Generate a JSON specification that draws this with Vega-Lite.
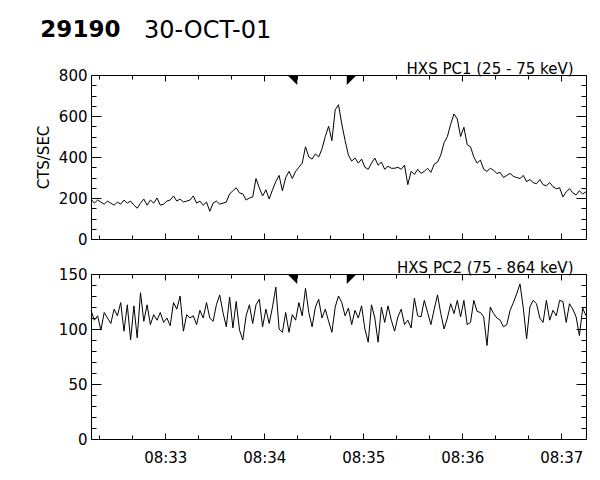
{
"$schema": "https://vega.github.io/schema/vega-lite/v6.json",
"padding": {"left": 36, "top": 18, "right": 5, "bottom": 5},
"title": {"text": "29190", "anchor": "start", "frame": "bounds", "fontSize": 23, "fontWeight": "bold", "font": "DejaVu Sans", "color": "black", "dx": 4, "dy": 27, "offset": 4},
"spacing": 13,
"vconcat": [
{
 "width": 495, "height": 164,
 "title": {"text": "30-OCT-01", "anchor": "start", "frame": "group", "dx": 53, "offset": 19, "fontSize": 24, "fontWeight": "normal", "font": "DejaVu Sans", "color": "black"},
 "data": {"values": [
{"t":"2001-10-30T08:32:15","v":195},{"t":"2001-10-30T08:32:17","v":175},{"t":"2001-10-30T08:32:19","v":190},{"t":"2001-10-30T08:32:21","v":180},{"t":"2001-10-30T08:32:23","v":170},{"t":"2001-10-30T08:32:25","v":185},{"t":"2001-10-30T08:32:27","v":175},{"t":"2001-10-30T08:32:29","v":165},{"t":"2001-10-30T08:32:31","v":180},{"t":"2001-10-30T08:32:33","v":170},{"t":"2001-10-30T08:32:35","v":190},{"t":"2001-10-30T08:32:37","v":175},{"t":"2001-10-30T08:32:39","v":185},{"t":"2001-10-30T08:32:41","v":165},{"t":"2001-10-30T08:32:43","v":150},{"t":"2001-10-30T08:32:45","v":175},{"t":"2001-10-30T08:32:47","v":195},{"t":"2001-10-30T08:32:49","v":165},{"t":"2001-10-30T08:32:51","v":190},{"t":"2001-10-30T08:32:53","v":175},{"t":"2001-10-30T08:32:55","v":200},{"t":"2001-10-30T08:32:57","v":165},{"t":"2001-10-30T08:32:59","v":170},
{"t":"2001-10-30T08:33:01","v":185},{"t":"2001-10-30T08:33:03","v":190},{"t":"2001-10-30T08:33:05","v":210},{"t":"2001-10-30T08:33:07","v":185},{"t":"2001-10-30T08:33:09","v":195},{"t":"2001-10-30T08:33:11","v":180},{"t":"2001-10-30T08:33:13","v":185},{"t":"2001-10-30T08:33:15","v":190},{"t":"2001-10-30T08:33:17","v":210},{"t":"2001-10-30T08:33:19","v":175},{"t":"2001-10-30T08:33:21","v":185},{"t":"2001-10-30T08:33:23","v":165},{"t":"2001-10-30T08:33:25","v":180},{"t":"2001-10-30T08:33:27","v":135},{"t":"2001-10-30T08:33:29","v":175},{"t":"2001-10-30T08:33:31","v":185},{"t":"2001-10-30T08:33:33","v":170},{"t":"2001-10-30T08:33:35","v":175},{"t":"2001-10-30T08:33:37","v":180},{"t":"2001-10-30T08:33:39","v":220},{"t":"2001-10-30T08:33:41","v":235},{"t":"2001-10-30T08:33:43","v":250},{"t":"2001-10-30T08:33:45","v":225},{"t":"2001-10-30T08:33:47","v":220},{"t":"2001-10-30T08:33:49","v":190},{"t":"2001-10-30T08:33:51","v":200},{"t":"2001-10-30T08:33:53","v":205},{"t":"2001-10-30T08:33:55","v":295},{"t":"2001-10-30T08:33:57","v":250},{"t":"2001-10-30T08:33:59","v":210},
{"t":"2001-10-30T08:34:01","v":240},{"t":"2001-10-30T08:34:03","v":195},{"t":"2001-10-30T08:34:05","v":240},{"t":"2001-10-30T08:34:07","v":280},{"t":"2001-10-30T08:34:09","v":310},{"t":"2001-10-30T08:34:11","v":235},{"t":"2001-10-30T08:34:13","v":300},{"t":"2001-10-30T08:34:15","v":330},{"t":"2001-10-30T08:34:17","v":295},{"t":"2001-10-30T08:34:19","v":330},{"t":"2001-10-30T08:34:21","v":350},{"t":"2001-10-30T08:34:23","v":370},{"t":"2001-10-30T08:34:25","v":450},{"t":"2001-10-30T08:34:27","v":400},{"t":"2001-10-30T08:34:29","v":390},{"t":"2001-10-30T08:34:31","v":415},{"t":"2001-10-30T08:34:33","v":400},{"t":"2001-10-30T08:34:35","v":440},{"t":"2001-10-30T08:34:37","v":500},{"t":"2001-10-30T08:34:39","v":550},{"t":"2001-10-30T08:34:41","v":480},{"t":"2001-10-30T08:34:43","v":630},{"t":"2001-10-30T08:34:45","v":655},{"t":"2001-10-30T08:34:47","v":560},{"t":"2001-10-30T08:34:49","v":480},{"t":"2001-10-30T08:34:51","v":410},{"t":"2001-10-30T08:34:53","v":380},{"t":"2001-10-30T08:34:55","v":395},{"t":"2001-10-30T08:34:57","v":370},{"t":"2001-10-30T08:34:59","v":390},
{"t":"2001-10-30T08:35:01","v":350},{"t":"2001-10-30T08:35:03","v":340},{"t":"2001-10-30T08:35:05","v":370},{"t":"2001-10-30T08:35:07","v":395},{"t":"2001-10-30T08:35:09","v":360},{"t":"2001-10-30T08:35:11","v":375},{"t":"2001-10-30T08:35:13","v":340},{"t":"2001-10-30T08:35:15","v":355},{"t":"2001-10-30T08:35:17","v":345},{"t":"2001-10-30T08:35:19","v":345},{"t":"2001-10-30T08:35:21","v":350},{"t":"2001-10-30T08:35:23","v":340},{"t":"2001-10-30T08:35:25","v":360},{"t":"2001-10-30T08:35:27","v":265},{"t":"2001-10-30T08:35:29","v":330},{"t":"2001-10-30T08:35:31","v":315},{"t":"2001-10-30T08:35:33","v":340},{"t":"2001-10-30T08:35:35","v":320},{"t":"2001-10-30T08:35:37","v":330},{"t":"2001-10-30T08:35:39","v":345},{"t":"2001-10-30T08:35:41","v":325},{"t":"2001-10-30T08:35:43","v":365},{"t":"2001-10-30T08:35:45","v":375},{"t":"2001-10-30T08:35:47","v":410},{"t":"2001-10-30T08:35:49","v":470},{"t":"2001-10-30T08:35:51","v":500},{"t":"2001-10-30T08:35:53","v":560},{"t":"2001-10-30T08:35:55","v":610},{"t":"2001-10-30T08:35:57","v":585},{"t":"2001-10-30T08:35:59","v":500},
{"t":"2001-10-30T08:36:01","v":545},{"t":"2001-10-30T08:36:03","v":460},{"t":"2001-10-30T08:36:05","v":450},{"t":"2001-10-30T08:36:07","v":400},{"t":"2001-10-30T08:36:09","v":370},{"t":"2001-10-30T08:36:11","v":385},{"t":"2001-10-30T08:36:13","v":340},{"t":"2001-10-30T08:36:15","v":330},{"t":"2001-10-30T08:36:17","v":345},{"t":"2001-10-30T08:36:19","v":335},{"t":"2001-10-30T08:36:21","v":320},{"t":"2001-10-30T08:36:23","v":325},{"t":"2001-10-30T08:36:25","v":300},{"t":"2001-10-30T08:36:27","v":310},{"t":"2001-10-30T08:36:29","v":320},{"t":"2001-10-30T08:36:31","v":305},{"t":"2001-10-30T08:36:33","v":300},{"t":"2001-10-30T08:36:35","v":295},{"t":"2001-10-30T08:36:37","v":310},{"t":"2001-10-30T08:36:39","v":280},{"t":"2001-10-30T08:36:41","v":290},{"t":"2001-10-30T08:36:43","v":275},{"t":"2001-10-30T08:36:45","v":270},{"t":"2001-10-30T08:36:47","v":290},{"t":"2001-10-30T08:36:49","v":265},{"t":"2001-10-30T08:36:51","v":260},{"t":"2001-10-30T08:36:53","v":275},{"t":"2001-10-30T08:36:55","v":255},{"t":"2001-10-30T08:36:57","v":245},{"t":"2001-10-30T08:36:59","v":250},
{"t":"2001-10-30T08:37:01","v":205},{"t":"2001-10-30T08:37:03","v":230},{"t":"2001-10-30T08:37:05","v":245},{"t":"2001-10-30T08:37:07","v":225},{"t":"2001-10-30T08:37:09","v":215},{"t":"2001-10-30T08:37:11","v":235},{"t":"2001-10-30T08:37:13","v":220},{"t":"2001-10-30T08:37:15","v":230}
 ]},
 "layer": [
  {"mark": {"type": "line", "color": "black", "strokeWidth": 1},
   "encoding": {
    "x": {"field": "t", "type": "temporal", "scale": {"domain": [{"year":2001,"month":10,"date":30,"hours":8,"minutes":32,"seconds":15},{"year":2001,"month":10,"date":30,"hours":8,"minutes":37,"seconds":15}], "nice": false},
          "axis": {"orient": "bottom", "labels": false, "values": [{"year":2001,"month":10,"date":30,"hours":8,"minutes":33},{"year":2001,"month":10,"date":30,"hours":8,"minutes":34},{"year":2001,"month":10,"date":30,"hours":8,"minutes":35},{"year":2001,"month":10,"date":30,"hours":8,"minutes":36},{"year":2001,"month":10,"date":30,"hours":8,"minutes":37}], "tickSize": -6, "title": null}},
    "y": {"field": "v", "type": "quantitative", "scale": {"domain": [0, 800], "nice": false},
          "axis": {"orient": "left", "values": [0,200,400,600,800], "tickSize": -10, "labelPadding": 14, "title": "CTS/SEC", "titlePadding": 7}}
   }},
  {"mark": {"type": "line", "opacity": 0},
   "encoding": {
    "x": {"field": "t", "type": "temporal", "axis": {"orient": "bottom", "labels": false, "domain": false, "values": [{"year":2001,"month":10,"date":30,"hours":8,"minutes":32,"seconds":20},{"year":2001,"month":10,"date":30,"hours":8,"minutes":32,"seconds":40},{"year":2001,"month":10,"date":30,"hours":8,"minutes":33,"seconds":20},{"year":2001,"month":10,"date":30,"hours":8,"minutes":33,"seconds":40},{"year":2001,"month":10,"date":30,"hours":8,"minutes":34,"seconds":20},{"year":2001,"month":10,"date":30,"hours":8,"minutes":34,"seconds":40},{"year":2001,"month":10,"date":30,"hours":8,"minutes":35,"seconds":20},{"year":2001,"month":10,"date":30,"hours":8,"minutes":35,"seconds":40},{"year":2001,"month":10,"date":30,"hours":8,"minutes":36,"seconds":20},{"year":2001,"month":10,"date":30,"hours":8,"minutes":36,"seconds":40}], "tickSize": -4, "title": null}},
    "y": {"field": "v", "type": "quantitative", "axis": {"orient": "left", "labels": false, "domain": false, "values": [50,100,150,250,300,350,450,500,550,650,700,750], "tickSize": -5, "title": null}}
   }},
  {"mark": {"type": "line", "opacity": 0},
   "encoding": {
    "x": {"field": "t", "type": "temporal", "axis": {"orient": "top", "labels": false, "values": [{"year":2001,"month":10,"date":30,"hours":8,"minutes":33},{"year":2001,"month":10,"date":30,"hours":8,"minutes":34},{"year":2001,"month":10,"date":30,"hours":8,"minutes":35},{"year":2001,"month":10,"date":30,"hours":8,"minutes":36},{"year":2001,"month":10,"date":30,"hours":8,"minutes":37}], "tickSize": -6, "title": "HXS PC1 (25 - 75 keV)", "titleX": 482, "titleAlign": "right", "titleBaseline": "alphabetic", "titlePadding": 1}},
    "y": {"field": "v", "type": "quantitative", "axis": {"orient": "right", "labels": false, "values": [0,200,400,600,800], "tickSize": -10, "title": null}}
   }},
  {"mark": {"type": "line", "opacity": 0},
   "encoding": {
    "x": {"field": "t", "type": "temporal", "axis": {"orient": "top", "labels": false, "domain": false, "values": [{"year":2001,"month":10,"date":30,"hours":8,"minutes":32,"seconds":20},{"year":2001,"month":10,"date":30,"hours":8,"minutes":32,"seconds":40},{"year":2001,"month":10,"date":30,"hours":8,"minutes":33,"seconds":20},{"year":2001,"month":10,"date":30,"hours":8,"minutes":33,"seconds":40},{"year":2001,"month":10,"date":30,"hours":8,"minutes":34,"seconds":20},{"year":2001,"month":10,"date":30,"hours":8,"minutes":34,"seconds":40},{"year":2001,"month":10,"date":30,"hours":8,"minutes":35,"seconds":20},{"year":2001,"month":10,"date":30,"hours":8,"minutes":35,"seconds":40},{"year":2001,"month":10,"date":30,"hours":8,"minutes":36,"seconds":20},{"year":2001,"month":10,"date":30,"hours":8,"minutes":36,"seconds":40}], "tickSize": -4, "title": null}},
    "y": {"field": "v", "type": "quantitative", "axis": {"orient": "right", "labels": false, "domain": false, "values": [50,100,150,250,300,350,450,500,550,650,700,750], "tickSize": -5, "title": null}}
   }},
  {"data": {"values": [{"t":"2001-10-30T08:34:20","side":"L"},{"t":"2001-10-30T08:34:50","side":"R"}]},
   "mark": {"type": "point", "filled": true, "color": "black", "opacity": 1, "size": 100},
   "encoding": {
    "x": {"field": "t", "type": "temporal", "axis": null},
    "y": {"datum": 800, "type": "quantitative", "axis": null},
    "shape": {"field": "side", "type": "nominal", "scale": {"domain": ["L","R"], "range": ["M-2,0L0,0L0,2Z","M0,0L2,0L0,2Z"]}, "legend": null}
   }}
 ],
 "resolve": {"axis": {"x": "independent", "y": "independent"}}
},
{
 "width": 495, "height": 165,
 "data": {"values": [
{"t":"2001-10-30T08:32:15","v":117},{"t":"2001-10-30T08:32:17","v":108},{"t":"2001-10-30T08:32:19","v":112},{"t":"2001-10-30T08:32:21","v":99},{"t":"2001-10-30T08:32:23","v":115},{"t":"2001-10-30T08:32:25","v":110},{"t":"2001-10-30T08:32:27","v":105},{"t":"2001-10-30T08:32:29","v":118},{"t":"2001-10-30T08:32:31","v":112},{"t":"2001-10-30T08:32:33","v":124},{"t":"2001-10-30T08:32:35","v":98},{"t":"2001-10-30T08:32:37","v":122},{"t":"2001-10-30T08:32:39","v":90},{"t":"2001-10-30T08:32:41","v":121},{"t":"2001-10-30T08:32:43","v":92},{"t":"2001-10-30T08:32:45","v":133},{"t":"2001-10-30T08:32:47","v":107},{"t":"2001-10-30T08:32:49","v":122},{"t":"2001-10-30T08:32:51","v":104},{"t":"2001-10-30T08:32:53","v":113},{"t":"2001-10-30T08:32:55","v":108},{"t":"2001-10-30T08:32:57","v":115},{"t":"2001-10-30T08:32:59","v":106},
{"t":"2001-10-30T08:33:01","v":110},{"t":"2001-10-30T08:33:03","v":103},{"t":"2001-10-30T08:33:05","v":124},{"t":"2001-10-30T08:33:07","v":118},{"t":"2001-10-30T08:33:09","v":130},{"t":"2001-10-30T08:33:11","v":98},{"t":"2001-10-30T08:33:13","v":113},{"t":"2001-10-30T08:33:15","v":110},{"t":"2001-10-30T08:33:17","v":112},{"t":"2001-10-30T08:33:19","v":104},{"t":"2001-10-30T08:33:21","v":117},{"t":"2001-10-30T08:33:23","v":110},{"t":"2001-10-30T08:33:25","v":124},{"t":"2001-10-30T08:33:27","v":110},{"t":"2001-10-30T08:33:29","v":107},{"t":"2001-10-30T08:33:31","v":122},{"t":"2001-10-30T08:33:33","v":131},{"t":"2001-10-30T08:33:35","v":115},{"t":"2001-10-30T08:33:37","v":102},{"t":"2001-10-30T08:33:39","v":129},{"t":"2001-10-30T08:33:41","v":101},{"t":"2001-10-30T08:33:43","v":125},{"t":"2001-10-30T08:33:45","v":99},{"t":"2001-10-30T08:33:47","v":90},{"t":"2001-10-30T08:33:49","v":112},{"t":"2001-10-30T08:33:51","v":122},{"t":"2001-10-30T08:33:53","v":105},{"t":"2001-10-30T08:33:55","v":122},{"t":"2001-10-30T08:33:57","v":127},{"t":"2001-10-30T08:33:59","v":102},
{"t":"2001-10-30T08:34:01","v":118},{"t":"2001-10-30T08:34:03","v":105},{"t":"2001-10-30T08:34:05","v":120},{"t":"2001-10-30T08:34:07","v":138},{"t":"2001-10-30T08:34:09","v":100},{"t":"2001-10-30T08:34:11","v":97},{"t":"2001-10-30T08:34:13","v":115},{"t":"2001-10-30T08:34:15","v":97},{"t":"2001-10-30T08:34:17","v":113},{"t":"2001-10-30T08:34:19","v":108},{"t":"2001-10-30T08:34:21","v":124},{"t":"2001-10-30T08:34:23","v":112},{"t":"2001-10-30T08:34:25","v":137},{"t":"2001-10-30T08:34:27","v":115},{"t":"2001-10-30T08:34:29","v":102},{"t":"2001-10-30T08:34:31","v":120},{"t":"2001-10-30T08:34:33","v":127},{"t":"2001-10-30T08:34:35","v":110},{"t":"2001-10-30T08:34:37","v":118},{"t":"2001-10-30T08:34:39","v":107},{"t":"2001-10-30T08:34:41","v":97},{"t":"2001-10-30T08:34:43","v":120},{"t":"2001-10-30T08:34:45","v":130},{"t":"2001-10-30T08:34:47","v":124},{"t":"2001-10-30T08:34:49","v":112},{"t":"2001-10-30T08:34:51","v":119},{"t":"2001-10-30T08:34:53","v":104},{"t":"2001-10-30T08:34:55","v":117},{"t":"2001-10-30T08:34:57","v":110},{"t":"2001-10-30T08:34:59","v":121},
{"t":"2001-10-30T08:35:01","v":100},{"t":"2001-10-30T08:35:03","v":88},{"t":"2001-10-30T08:35:05","v":122},{"t":"2001-10-30T08:35:07","v":110},{"t":"2001-10-30T08:35:09","v":88},{"t":"2001-10-30T08:35:11","v":120},{"t":"2001-10-30T08:35:13","v":106},{"t":"2001-10-30T08:35:15","v":121},{"t":"2001-10-30T08:35:17","v":108},{"t":"2001-10-30T08:35:19","v":98},{"t":"2001-10-30T08:35:21","v":111},{"t":"2001-10-30T08:35:23","v":118},{"t":"2001-10-30T08:35:25","v":104},{"t":"2001-10-30T08:35:27","v":108},{"t":"2001-10-30T08:35:29","v":101},{"t":"2001-10-30T08:35:31","v":128},{"t":"2001-10-30T08:35:33","v":112},{"t":"2001-10-30T08:35:35","v":111},{"t":"2001-10-30T08:35:37","v":126},{"t":"2001-10-30T08:35:39","v":115},{"t":"2001-10-30T08:35:41","v":104},{"t":"2001-10-30T08:35:43","v":118},{"t":"2001-10-30T08:35:45","v":131},{"t":"2001-10-30T08:35:47","v":114},{"t":"2001-10-30T08:35:49","v":100},{"t":"2001-10-30T08:35:51","v":110},{"t":"2001-10-30T08:35:53","v":123},{"t":"2001-10-30T08:35:55","v":114},{"t":"2001-10-30T08:35:57","v":126},{"t":"2001-10-30T08:35:59","v":111},
{"t":"2001-10-30T08:36:01","v":126},{"t":"2001-10-30T08:36:03","v":104},{"t":"2001-10-30T08:36:05","v":106},{"t":"2001-10-30T08:36:07","v":126},{"t":"2001-10-30T08:36:09","v":116},{"t":"2001-10-30T08:36:11","v":115},{"t":"2001-10-30T08:36:13","v":111},{"t":"2001-10-30T08:36:15","v":85},{"t":"2001-10-30T08:36:17","v":120},{"t":"2001-10-30T08:36:19","v":114},{"t":"2001-10-30T08:36:21","v":110},{"t":"2001-10-30T08:36:23","v":108},{"t":"2001-10-30T08:36:25","v":102},{"t":"2001-10-30T08:36:27","v":104},{"t":"2001-10-30T08:36:29","v":117},{"t":"2001-10-30T08:36:31","v":124},{"t":"2001-10-30T08:36:33","v":132},{"t":"2001-10-30T08:36:35","v":141},{"t":"2001-10-30T08:36:37","v":119},{"t":"2001-10-30T08:36:39","v":91},{"t":"2001-10-30T08:36:41","v":120},{"t":"2001-10-30T08:36:43","v":126},{"t":"2001-10-30T08:36:45","v":123},{"t":"2001-10-30T08:36:47","v":110},{"t":"2001-10-30T08:36:49","v":106},{"t":"2001-10-30T08:36:51","v":126},{"t":"2001-10-30T08:36:53","v":108},{"t":"2001-10-30T08:36:55","v":117},{"t":"2001-10-30T08:36:57","v":112},{"t":"2001-10-30T08:36:59","v":126},
{"t":"2001-10-30T08:37:01","v":125},{"t":"2001-10-30T08:37:03","v":106},{"t":"2001-10-30T08:37:05","v":123},{"t":"2001-10-30T08:37:07","v":118},{"t":"2001-10-30T08:37:09","v":111},{"t":"2001-10-30T08:37:11","v":94},{"t":"2001-10-30T08:37:13","v":119},{"t":"2001-10-30T08:37:15","v":112}
 ]},
 "layer": [
  {"mark": {"type": "line", "color": "black", "strokeWidth": 1},
   "encoding": {
    "x": {"field": "t", "type": "temporal", "scale": {"domain": [{"year":2001,"month":10,"date":30,"hours":8,"minutes":32,"seconds":15},{"year":2001,"month":10,"date":30,"hours":8,"minutes":37,"seconds":15}], "nice": false},
          "axis": {"orient": "bottom", "format": "%H:%M", "values": [{"year":2001,"month":10,"date":30,"hours":8,"minutes":33},{"year":2001,"month":10,"date":30,"hours":8,"minutes":34},{"year":2001,"month":10,"date":30,"hours":8,"minutes":35},{"year":2001,"month":10,"date":30,"hours":8,"minutes":36},{"year":2001,"month":10,"date":30,"hours":8,"minutes":37}], "tickSize": -6, "labelPadding": 17, "title": null}},
    "y": {"field": "v", "type": "quantitative", "scale": {"domain": [0, 150], "nice": false},
          "axis": {"orient": "left", "values": [0,50,100,150], "tickSize": -10, "labelPadding": 14, "title": null}}
   }},
  {"mark": {"type": "line", "opacity": 0},
   "encoding": {
    "x": {"field": "t", "type": "temporal", "axis": {"orient": "bottom", "labels": false, "domain": false, "values": [{"year":2001,"month":10,"date":30,"hours":8,"minutes":32,"seconds":20},{"year":2001,"month":10,"date":30,"hours":8,"minutes":32,"seconds":40},{"year":2001,"month":10,"date":30,"hours":8,"minutes":33,"seconds":20},{"year":2001,"month":10,"date":30,"hours":8,"minutes":33,"seconds":40},{"year":2001,"month":10,"date":30,"hours":8,"minutes":34,"seconds":20},{"year":2001,"month":10,"date":30,"hours":8,"minutes":34,"seconds":40},{"year":2001,"month":10,"date":30,"hours":8,"minutes":35,"seconds":20},{"year":2001,"month":10,"date":30,"hours":8,"minutes":35,"seconds":40},{"year":2001,"month":10,"date":30,"hours":8,"minutes":36,"seconds":20},{"year":2001,"month":10,"date":30,"hours":8,"minutes":36,"seconds":40}], "tickSize": -4, "title": null}},
    "y": {"field": "v", "type": "quantitative", "axis": {"orient": "left", "labels": false, "domain": false, "values": [10,20,30,40,60,70,80,90,110,120,130,140], "tickSize": -5, "title": null}}
   }},
  {"mark": {"type": "line", "opacity": 0},
   "encoding": {
    "x": {"field": "t", "type": "temporal", "axis": {"orient": "top", "labels": false, "values": [{"year":2001,"month":10,"date":30,"hours":8,"minutes":33},{"year":2001,"month":10,"date":30,"hours":8,"minutes":34},{"year":2001,"month":10,"date":30,"hours":8,"minutes":35},{"year":2001,"month":10,"date":30,"hours":8,"minutes":36},{"year":2001,"month":10,"date":30,"hours":8,"minutes":37}], "tickSize": -6, "title": "HXS PC2 (75 - 864 keV)", "titleX": 482, "titleAlign": "right", "titleBaseline": "alphabetic", "titlePadding": 1}},
    "y": {"field": "v", "type": "quantitative", "axis": {"orient": "right", "labels": false, "values": [0,50,100,150], "tickSize": -10, "title": null}}
   }},
  {"mark": {"type": "line", "opacity": 0},
   "encoding": {
    "x": {"field": "t", "type": "temporal", "axis": {"orient": "top", "labels": false, "domain": false, "values": [{"year":2001,"month":10,"date":30,"hours":8,"minutes":32,"seconds":20},{"year":2001,"month":10,"date":30,"hours":8,"minutes":32,"seconds":40},{"year":2001,"month":10,"date":30,"hours":8,"minutes":33,"seconds":20},{"year":2001,"month":10,"date":30,"hours":8,"minutes":33,"seconds":40},{"year":2001,"month":10,"date":30,"hours":8,"minutes":34,"seconds":20},{"year":2001,"month":10,"date":30,"hours":8,"minutes":34,"seconds":40},{"year":2001,"month":10,"date":30,"hours":8,"minutes":35,"seconds":20},{"year":2001,"month":10,"date":30,"hours":8,"minutes":35,"seconds":40},{"year":2001,"month":10,"date":30,"hours":8,"minutes":36,"seconds":20},{"year":2001,"month":10,"date":30,"hours":8,"minutes":36,"seconds":40}], "tickSize": -4, "title": null}},
    "y": {"field": "v", "type": "quantitative", "axis": {"orient": "right", "labels": false, "domain": false, "values": [10,20,30,40,60,70,80,90,110,120,130,140], "tickSize": -5, "title": null}}
   }},
  {"data": {"values": [{"t":"2001-10-30T08:34:20","side":"L"},{"t":"2001-10-30T08:34:50","side":"R"}]},
   "mark": {"type": "point", "filled": true, "color": "black", "opacity": 1, "size": 100},
   "encoding": {
    "x": {"field": "t", "type": "temporal", "axis": null},
    "y": {"datum": 150, "type": "quantitative", "axis": null},
    "shape": {"field": "side", "type": "nominal", "scale": {"domain": ["L","R"], "range": ["M-2,0L0,0L0,2Z","M0,0L2,0L0,2Z"]}, "legend": null}
   }}
 ],
 "resolve": {"axis": {"x": "independent", "y": "independent"}}
}
],
"config": {
 "view": {"stroke": null},
 "axis": {"grid": false, "domainColor": "black", "tickColor": "black", "labelColor": "black", "titleColor": "black", "labelFont": "DejaVu Sans", "titleFont": "DejaVu Sans", "labelFontSize": 15, "titleFontSize": 15, "titleFontWeight": "normal"}
}
}
